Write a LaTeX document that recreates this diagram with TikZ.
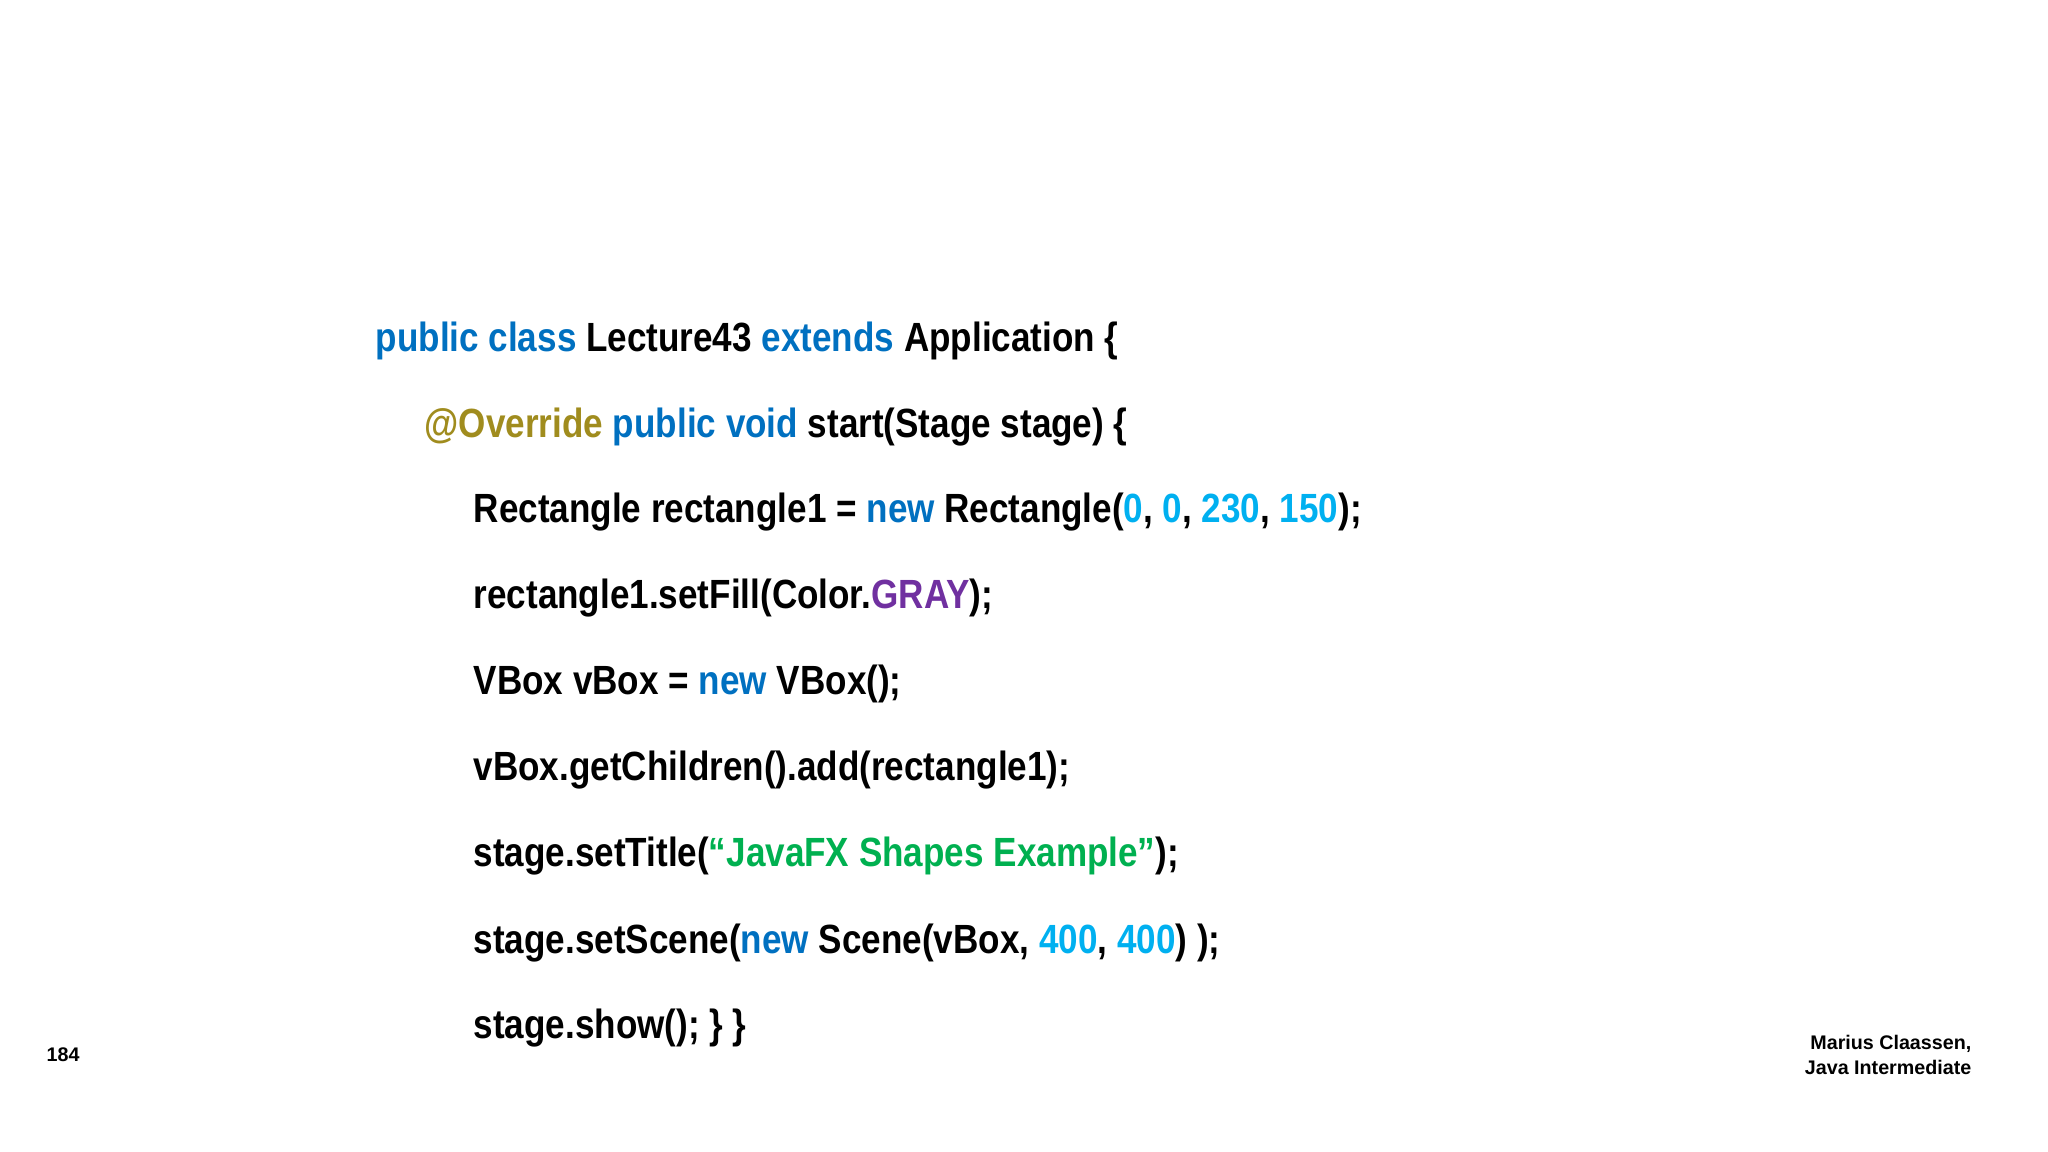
\documentclass[tikz,border=0pt]{standalone}
\usepackage{fontspec}
\setmainfont{Liberation Sans}
\usepackage{graphicx}
\definecolor{kw}{RGB}{0,112,192}
\definecolor{num}{RGB}{0,176,240}
\definecolor{ann}{RGB}{160,140,30}
\definecolor{prp}{RGB}{112,48,160}
\definecolor{str}{RGB}{0,176,80}
\newcommand{\K}[1]{\textcolor{kw}{#1}}
\newcommand{\N}[1]{\textcolor{num}{#1}}
\tikzset{codeline/.style={anchor=base west,inner sep=0pt,font=\fontsize{11.6}{14}\selectfont\bfseries},
foot/.style={inner sep=0pt,font=\fontsize{5.6}{7}\selectfont\bfseries}}
\newcommand{\sq}[1]{\scalebox{0.86}[1]{#1}}
\begin{document}
\begin{tikzpicture}[x=0.01cm,y=-0.01cm]
\useasboundingbox (0,0) rectangle (2048,1152);
\node[codeline] (l1) at (375,352) {\sq{\K{public class} Lecture43 \K{extends} Application \{}};
\node[codeline] (l2) at (424,438) {\sq{\textcolor{ann}{@Override} \K{public void} start(Stage stage) \{}};
\node[codeline] (l3) at (473,523) {\sq{Rectangle rectangle1 = \K{new} Rectangle(\N{0}, \N{0}, \N{230}, \N{150});}};
\node[codeline] (l4) at (473,609) {\sq{rectangle1.setFill(Color.\textcolor{prp}{GRAY});}};
\node[codeline] (l5) at (473,695) {\sq{VBox vBox = \K{new} VBox();}};
\node[codeline] (l6) at (473,780) {\sq{vBox.getChildren().add(rectangle1);}};
\node[codeline] (l7) at (473,866) {\sq{stage.setTitle(\textcolor{str}{“JavaFX Shapes Example”});}};
\node[codeline] (l8) at (473,953) {\sq{stage.setScene(\K{new} Scene(vBox, \N{400}, \N{400}) );}};
\node[codeline] (l9) at (473,1038) {\sq{stage.show(); \} \}}};
\node[foot,anchor=west] (pg) at (46,1055) {184};
\node[foot,anchor=east,align=right] (au) at (1972,1055) {Marius Claassen,\\Java Intermediate};
\end{tikzpicture}
\end{document}
